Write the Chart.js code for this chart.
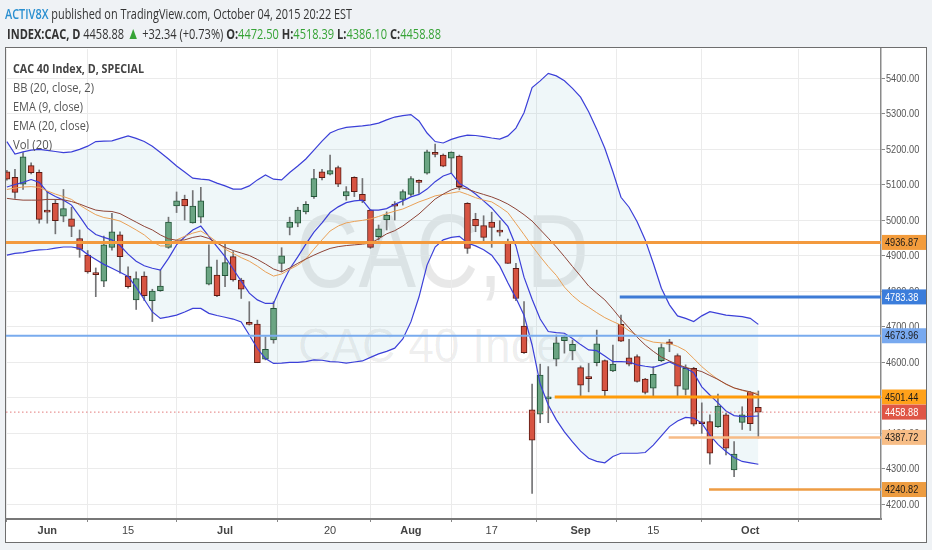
<!DOCTYPE html>
<html>
<head>
<meta charset="utf-8">
<title>CAC 40 Index, D</title>
<script src="https://cdn.jsdelivr.net/npm/chart.js@4.4.0/dist/chart.umd.min.js"></script>
<style>
html, body { margin: 0; padding: 0; background: #eff2f5; }
#wrap { position: relative; width: 932px; height: 550px; overflow: hidden; font-family: 'Open Sans', 'Liberation Sans', sans-serif; }
#frame { position: absolute; left: 5px; top: 47px; width: 922px; height: 496px; box-sizing: border-box;
         border: 1.5px solid #6e6e6e; background: #fff; }
.wm { position: absolute; color: rgba(0, 0, 0, 0.09); white-space: nowrap; font-family: 'Liberation Sans', Arial, sans-serif; }
#wm1 { left: 296px; top: 200px; font-size: 103px; line-height: 103px; }
#wm2 { left: 298px; top: 322px; font-size: 48px; line-height: 48px; color: rgba(0, 0, 0, 0.07); }
#myChart { position: absolute; left: 0; top: 0; }
.hdr { position: absolute; white-space: nowrap; color: #333; font-size: 15px; line-height: 19px; }
.leg { position: absolute; left: 13px; white-space: nowrap; color: #555; font-size: 13px; line-height: 19px; }
.fit { transform-origin: left center; }
.g { color: #36a336; }
.tri { color: #36a336; font-size: 17px; }
.autor { color: #2a8fd0; font-weight: 600; }
</style>
</head>
<body>
<div id="wrap">
  <div id="frame"></div>
  <div class="wm fit" id="wm1" data-w="293">CAC, D</div>
  <div class="wm fit" id="wm2" data-w="287">CAC 40 Index</div>
  <canvas id="myChart" width="932" height="550"></canvas>
  <div class="hdr fit" style="left:5px; top:4px" data-w="347"><span class="autor">ACTIV8X</span> published on TradingView.com, October 04, 2015 20:22 EST</div>
  <div class="hdr fit" style="left:7px; top:23px" data-w="434"><b>INDEX:CAC, D</b> 4458.88 <span class="tri">&#9650;</span> +32.34 (+0.73%) <b>O:</b><span class="g">4472.50</span> <b>H:</b><span class="g">4518.39</span> <b>L:</b><span class="g">4386.10</span> <b>C:</b><span class="g">4458.88</span></div>
  <div class="leg fit" style="top:59px; color:#444; font-weight:bold" data-w="131">CAC 40 Index, D, SPECIAL</div>
  <div class="leg fit" style="top:78px" data-w="81">BB (20, close, 2)</div>
  <div class="leg fit" style="top:97px" data-w="70">EMA (9, close)</div>
  <div class="leg fit" style="top:116px" data-w="76">EMA (20, close)</div>
  <div class="leg fit" style="top:135px" data-w="39">Vol (20)</div>
</div>
<script>
// velas diarias, una por sesion (25 may - 2 oct 2015)
const aperturas = [5136, 5120, 5101, 5153, 5134, 5026, 5047, 5011, 5003, 4948,
    4901, 4848, 4828, 4923, 4958, 4842, 4775, 4842, 4773, 4801,
    4923, 5040, 5058, 4992, 5008, 4819, 4845, 4843, 4897, 4831,
    4709, 4707, 4608, 4662, 4878, 4979, 4991, 5023, 5066, 5136,
    5129, 5148, 5068, 5120, 5072, 5028, 4953, 5000, 5043, 5058,
    5072, 5110, 5132, 5187, 5183, 5174, 5180, 5047, 5002, 4984,
    4994, 4968, 4934, 4864, 4701, 4465, 4453, 4496, 4608, 4660,
    4631, 4584, 4555, 4598, 4604, 4575, 4706, 4612, 4615, 4552,
    4526, 4604, 4657, 4618, 4523, 4582, 4428, 4432, 4418, 4451,
    4296, 4430, 4515, 4472.50]
const maximos = [5140, 5143, 5190, 5161, 5141, 5080, 5058, 5086, 5036, 4972,
    4914, 4865, 4955, 5019, 4967, 4868, 4854, 4854, 4805, 4859,
    5008, 5079, 5070, 5083, 5092, 4930, 4887, 4932, 4911, 4836,
    4770, 4718, 4671, 4770, 4922, 5008, 5036, 5052, 5143, 5143,
    5183, 5152, 5094, 5122, 5117, 5030, 4986, 5023, 5052, 5085,
    5122, 5113, 5197, 5214, 5186, 5192, 5183, 5049, 5019, 5012,
    5022, 4998, 4946, 4878, 4770, 4538, 4594, 4587, 4676, 4676,
    4662, 4589, 4596, 4690, 4606, 4648, 4732, 4664, 4620, 4554,
    4587, 4651, 4664, 4623, 4592, 4585, 4485, 4451, 4510, 4456,
    4376, 4474, 4517, 4518.39]
const minimos = [5112, 5061, 5086, 5130, 4991, 4991, 4961, 4995, 4953, 4895,
    4850, 4784, 4812, 4915, 4850, 4808, 4748, 4773, 4714, 4799,
    4920, 5021, 5000, 4991, 4992, 4817, 4784, 4812, 4828, 4779,
    4704, 4598, 4606, 4653, 4854, 4958, 4981, 5017, 5061, 5113,
    5127, 5094, 5056, 5066, 5049, 4920, 4944, 4972, 5000, 5042,
    5068, 5075, 5129, 5178, 5150, 5132, 5085, 4906, 4967, 4939,
    4923, 4955, 4878, 4773, 4624, 4230, 4429, 4429, 4589, 4625,
    4606, 4504, 4516, 4589, 4504, 4573, 4657, 4589, 4543, 4510,
    4502, 4601, 4629, 4502, 4507, 4420, 4399, 4312, 4416, 4338,
    4277, 4410, 4407, 4386.10]
const cierres = [5115, 5078, 5178, 5133, 5002, 5022, 4998, 5032, 4982, 4917,
    4854, 4846, 4930, 4967, 4897, 4812, 4835, 4787, 4800, 4814,
    4994, 5054, 5040, 5039, 5054, 4868, 4787, 4880, 4831, 4805,
    4706, 4598, 4636, 4751, 4899, 4994, 5028, 5044, 5117, 5119,
    5139, 5101, 5080, 5080, 5054, 4923, 4975, 5014, 5039, 5080,
    5117, 5106, 5192, 5185, 5152, 5191, 5094, 4920, 4983, 4951,
    4979, 4966, 4878, 4779, 4626, 4380, 4563, 4500, 4654, 4671,
    4650, 4535, 4553, 4651, 4519, 4594, 4659, 4594, 4545, 4514,
    4565, 4641, 4650, 4532, 4582, 4425, 4426, 4343, 4476, 4357,
    4341, 4451, 4426.54, 4458.88]

// indicadores
const bbSuperior = [5221, 5186, 5192, 5197, 5199, 5196, 5193, 5190, 5192, 5199,
    5208, 5221, 5222, 5223, 5230, 5237, 5230, 5221, 5208, 5190,
    5172, 5152, 5135, 5118, 5115, 5113, 5104, 5096, 5087, 5087,
    5096, 5113, 5127, 5115, 5113, 5134, 5152, 5172, 5197, 5222,
    5245, 5255, 5261, 5263, 5265, 5268, 5273, 5282, 5290, 5294,
    5297, 5279, 5245, 5221, 5217, 5227, 5234, 5239, 5238, 5235,
    5231, 5228, 5237, 5259, 5302, 5373, 5392, 5413, 5406, 5392,
    5371, 5346, 5305, 5256, 5202, 5136, 5064, 5036, 4995, 4944,
    4878, 4808, 4761, 4730, 4723, 4714, 4730, 4742, 4737, 4732,
    4730, 4728, 4723, 4706]
const bbInferior = [4901, 4906, 4908, 4913, 4916, 4917, 4921, 4924, 4924, 4920,
    4903, 4889, 4875, 4864, 4853, 4841, 4810, 4776, 4741, 4723,
    4727, 4732, 4741, 4751, 4751, 4737, 4731, 4726, 4721, 4713,
    4676, 4638, 4610, 4596, 4597, 4599, 4599, 4601, 4606, 4605,
    4601, 4600, 4597, 4600, 4603, 4613, 4623, 4630, 4639, 4665,
    4713, 4783, 4873, 4924, 4944, 4951, 4954, 4935, 4927, 4916,
    4901, 4870, 4823, 4780, 4732, 4648, 4538, 4479, 4437, 4403,
    4375, 4349, 4329, 4320, 4316, 4334, 4343, 4343, 4343, 4345,
    4366, 4392, 4418, 4434, 4444, 4442, 4428, 4394, 4368, 4348,
    4331, 4320, 4316, 4312]
const bbBase = [5061, 5058, 5056, 5056, 5056, 5058, 5058, 5057, 5052, 5045,
    5036, 5028, 5025, 5024, 5018, 5006, 4994, 4982, 4972, 4958,
    4947, 4943, 4944, 4951, 4955, 4948, 4935, 4923, 4914, 4907,
    4900, 4889, 4876, 4862, 4854, 4865, 4878, 4890, 4901, 4911,
    4920, 4925, 4928, 4930, 4932, 4935, 4947, 4961, 4970, 4983,
    5000, 5017, 5038, 5059, 5073, 5085, 5092, 5087, 5079, 5072,
    5065, 5056, 5045, 5031, 5015, 4997, 4973, 4949, 4924, 4897,
    4869, 4842, 4814, 4794, 4775, 4749, 4721, 4696, 4670, 4648,
    4630, 4614, 4603, 4593, 4585, 4579, 4573, 4562, 4551, 4538,
    4527, 4521, 4516, 4507]
const ema9 = [5093, 5100, 5106, 5114, 5106, 5079, 5066, 5056, 5042, 5010,
    4977, 4959, 4951, 4944, 4928, 4904, 4884, 4871, 4864, 4859,
    4892, 4930, 4952, 4972, 4983, 4954, 4925, 4897, 4862, 4828,
    4794, 4775, 4765, 4765, 4817, 4862, 4896, 4932, 4966, 4992,
    5021, 5037, 5049, 5054, 5056, 5028, 5028, 5032, 5044, 5054,
    5065, 5072, 5087, 5108, 5124, 5132, 5103, 5090, 5073, 5054,
    5034, 5008, 4982, 4927, 4839, 4777, 4721, 4686, 4683, 4681,
    4666, 4649, 4634, 4632, 4617, 4601, 4601, 4600, 4592, 4588,
    4585, 4592, 4600, 4590, 4583, 4570, 4530, 4507, 4485, 4462,
    4449, 4446, 4447, 4448]
const ema20 = [5086, 5090, 5093, 5094, 5092, 5082, 5073, 5066, 5058, 5042,
    5028, 5015, 5007, 5003, 4997, 4985, 4972, 4958, 4939, 4927,
    4927, 4944, 4954, 4963, 4969, 4955, 4938, 4918, 4906, 4894,
    4884, 4870, 4854, 4842, 4848, 4861, 4873, 4890, 4918, 4944,
    4969, 4983, 4992, 4996, 4999, 5003, 5010, 5018, 5025, 5031,
    5041, 5051, 5059, 5068, 5072, 5076, 5080, 5072, 5063, 5056,
    5051, 5037, 5021, 4990, 4959, 4927, 4897, 4869, 4844, 4811,
    4787, 4768, 4754, 4739, 4725, 4714, 4704, 4688, 4675, 4663,
    4656, 4654, 4652, 4644, 4632, 4610, 4587, 4568, 4551, 4537,
    4527, 4520, 4514, 4512]

// etiquetas del eje de tiempo (sesion donde cae cada una)
const sesionesEje = [5, 15, 27, 40, 50, 60, 71, 80, 92]
const etiquetasEje = ['Jun', '15', 'Jul', '20', 'Aug', '17', 'Sep', '15', 'Oct']
const etiquetaMes = [true, false, true, false, true, false, true, false, true]

const nivelesEjeY = [4200, 4300, 4400, 4500, 4600, 4700, 4800, 4900, 5000, 5100, 5200, 5300, 5400]

// lineas horizontales: valor y sesion donde empiezan (null = desde el borde)
const niveles = [4936.87, 4783.38, 4673.96, 4501.44, 4458.88, 4387.72, 4240.82]
const nivelDesde = [null, 75.85, null, 67.8, null, 81.9, 86.9]

const X_MIN = -0.11
const X_MAX = 108.18
const Y_MIN = 4157.8
const Y_MAX = 5481.7

const coloresNivel = ['#f39a3e', '#3d7bd6', '#79abee', '#ff9c0a', '#e27a7a', '#f7bb86', '#ee9c44']
const anchoNivel = [3, 3, 2, 3, 1, 2.5, 2.5]
const cajaNivel = ['#f39c3c', '#3b7ddb', '#78a9ef', '#ffa11a', '#df5646', '#f7bd86', '#ed9c40']
const textoNivel = ['#1a1a1a', '#ffffff', '#1a1a1a', '#1a1a1a', '#ffffff', '#1a1a1a', '#1a1a1a']

const fuenteEje = "'Liberation Sans', Arial, sans-serif"

// texto estrecho como el del original
function textoEstrecho(c, txt, x, y) {
    c.save()
    c.translate(x, y)
    c.scale(0.8, 1)
    c.fillText(txt, 0, 0)
    c.restore()
}

// etiquetas del eje de precios y cajas de cada nivel
const ejePrecios = {
    id: 'ejePrecios',
    afterDraw(chart) {
        const c = chart.ctx
        const y = chart.scales.y
        const area = chart.chartArea
        c.save()
        c.font = '11.5px ' + fuenteEje
        c.textBaseline = 'middle'
        c.fillStyle = '#555'
        nivelesEjeY.forEach(v => {
            textoEstrecho(c, v.toFixed(2), area.right + 5, y.getPixelForValue(v) + 0.5)
        })
        niveles.forEach((v, i) => {
            const py = y.getPixelForValue(v)
            c.fillStyle = cajaNivel[i]
            c.fillRect(area.right + 1, py - 7.5, 44, 15)
            c.fillStyle = textoNivel[i]
            textoEstrecho(c, v.toFixed(2), area.right + 4, py + 0.5)
        })
        c.restore()
    }
}

function grafico_Velas() {

    const ctx = document.getElementById('myChart')

    const sube = cierres.map((c, i) => c >= aperturas[i])

    const linea = (valores, color, ancho) => ({
        type: 'line',
        data: valores.map((v, i) => ({ x: i, y: v })),
        borderColor: color,
        borderWidth: ancho,
        pointRadius: 0,
        tension: 0,
        fill: false,
        order: 1
    })

    const bandaSup = linea(bbSuperior, '#3b3fd8', 1.2)
    bandaSup.fill = '+1'
    bandaSup.backgroundColor = 'rgba(140, 195, 215, 0.14)'

    const datasets = [
        bandaSup,
        linea(bbInferior, '#3b3fd8', 1.2),
        linea(bbBase, '#8e4437', 1),
        linea(ema20, '#e9a056', 1),
        linea(ema9, '#3b3fd8', 1.2),
        {
            // mechas
            type: 'bar',
            data: minimos.map((l, i) => ({ x: i, y: [l, maximos[i]] })),
            backgroundColor: '#737375',
            barThickness: 1,
            grouped: false,
            order: 3
        },
        {
            // cuerpos
            type: 'bar',
            data: aperturas.map((o, i) => ({ x: i, y: [o, cierres[i]] })),
            backgroundColor: sube.map(s => s ? '#6ba583' : '#d75442'),
            borderColor: sube.map(s => s ? '#225437' : '#5b1a13'),
            borderWidth: 1,
            borderSkipped: false,
            barThickness: 6,
            minBarLength: 2,
            grouped: false,
            order: 2
        }
    ]

    niveles.forEach((v, i) => {
        datasets.push({
            type: 'line',
            data: [{ x: nivelDesde[i] === null ? X_MIN : nivelDesde[i], y: v }, { x: X_MAX, y: v }],
            borderColor: coloresNivel[i],
            borderWidth: anchoNivel[i],
            borderDash: i === 4 ? [1.5, 2.5] : [],
            pointRadius: 0,
            fill: false,
            order: 0
        })
    })

    new Chart(ctx, {
        type: 'bar',
        data: { datasets: datasets },
        options: {
            responsive: false,
            animation: false,
            events: [],
            layout: { padding: { left: 6, right: 6, top: 49, bottom: 8 } },
            plugins: {
                legend: { display: false },
                tooltip: { enabled: false },
                filler: { propagate: false, drawTime: 'beforeDatasetsDraw' }
            },
            scales: {
                x: {
                    type: 'linear',
                    min: X_MIN,
                    max: X_MAX,
                    offset: false,
                    afterBuildTicks: s => { s.ticks = sesionesEje.map(v => ({ value: v })) },
                    afterFit: s => { s.height = 23 },
                    grid: { color: '#ebebeb', tickLength: 3, tickColor: '#888' },
                    border: { color: '#777', width: 2 },
                    ticks: {
                        autoSkip: false,
                        maxRotation: 0,
                        padding: 2,
                        color: '#444',
                        font: c => ({ family: fuenteEje, size: 11, weight: etiquetaMes[c.index] ? 'bold' : 'normal' }),
                        callback: (v, i) => etiquetasEje[i]
                    }
                },
                y: {
                    type: 'linear',
                    position: 'right',
                    min: Y_MIN,
                    max: Y_MAX,
                    afterBuildTicks: s => { s.ticks = nivelesEjeY.map(v => ({ value: v })) },
                    afterFit: s => { s.width = 45 },
                    grid: { color: '#ebebeb', tickLength: 4, tickColor: '#888' },
                    border: { color: '#8a8a8a', width: 1.5 },
                    ticks: { display: false }
                }
            }
        },
        plugins: [ejePrecios]
    })
}

// ajusta el ancho de los textos al del original
function ajustarTextos() {
    document.querySelectorAll('.fit').forEach(el => {
        const w = el.getBoundingClientRect().width
        el.style.transform = 'scaleX(' + (Number(el.dataset.w) / w) + ')'
    })
}

ajustarTextos()
grafico_Velas()
</script>
</body>
</html>
